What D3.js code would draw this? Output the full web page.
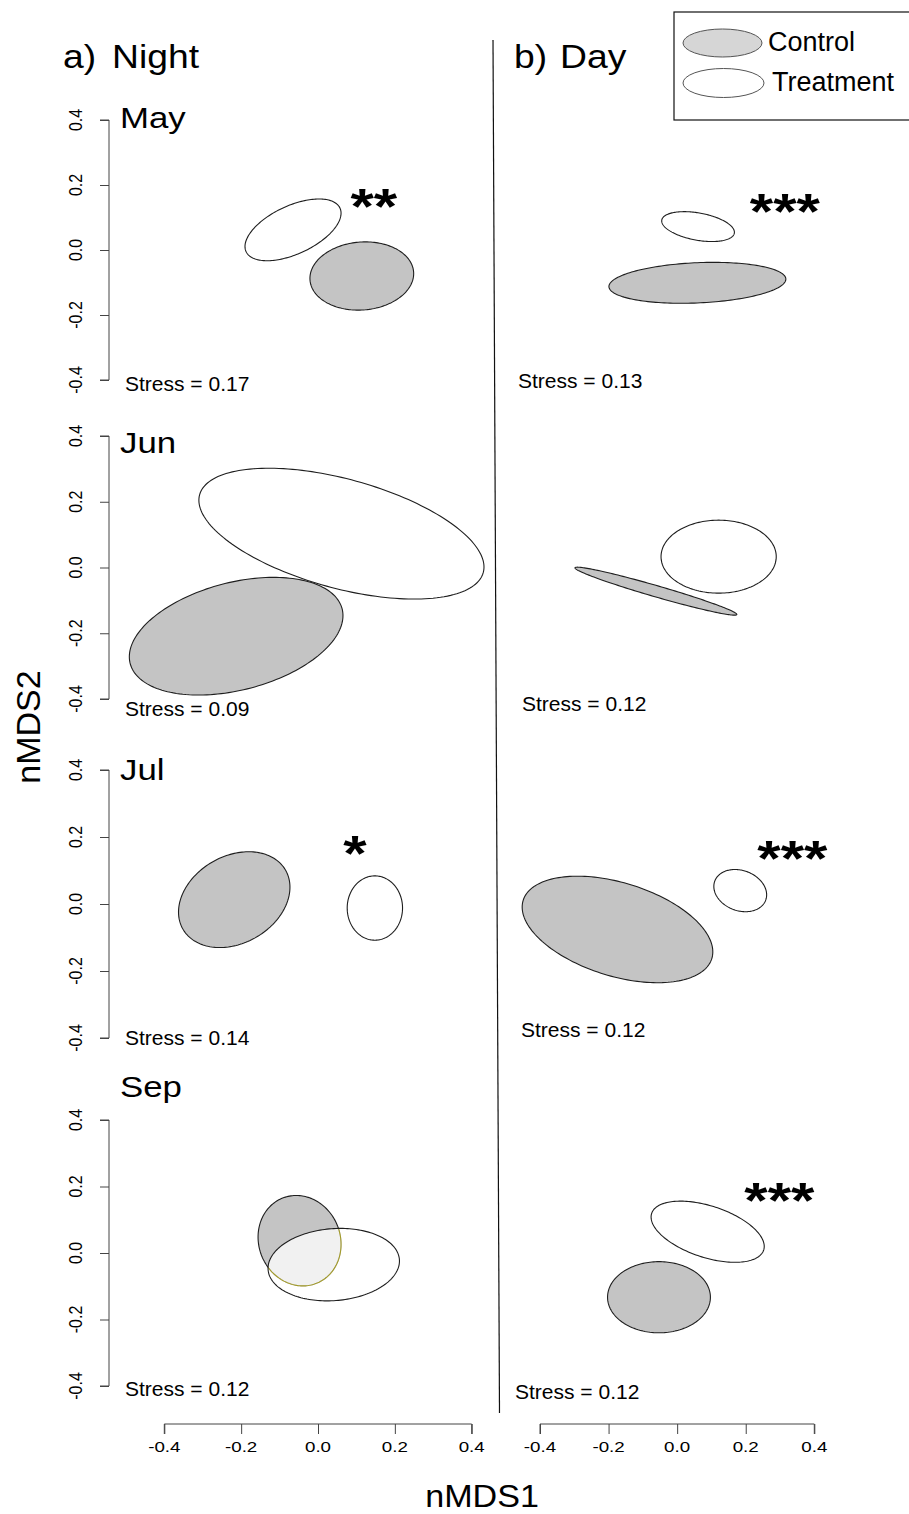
<!DOCTYPE html>
<html>
<head>
<meta charset="utf-8">
<script src="https://cdn.jsdelivr.net/npm/d3@7/dist/d3.min.js"></script>
<style>
  html, body { margin: 0; padding: 0; background: #fff; }
  svg { display: block; }
  text { font-family: "Liberation Sans", Arial, Helvetica, sans-serif; fill: #000; }
</style>
</head>
<body>
<script>
// ---- data ---------------------------------------------------------------
const months = ["May", "Jun", "Jul", "Sep"];
const stressNight = [0.17, 0.09, 0.14, 0.12];
const stressDay = [0.13, 0.12, 0.12, 0.12];
const sigNight = ["**", "", "*", ""];
const sigDay = ["***", "", "***", "***"];
const axisTicks = [-0.4, -0.2, 0.0, 0.2, 0.4];

// dispersion ellipses: [centre nMDS1, centre nMDS2, sd nMDS1, sd nMDS2, correlation]
const ctrlNight = [
  [0.114, -0.080, 0.135, 0.105, 0.07],
  [-0.213, -0.209, 0.278, 0.179, 0.35],
  [-0.218, 0.013, 0.145, 0.143, 0.26],
  [-0.048, 0.037, 0.108, 0.136, -0.08]
];
const trtNight = [
  [-0.065, 0.062, 0.125, 0.095, 0.54],
  [0.061, 0.103, 0.371, 0.199, -0.51],
  [0.148, -0.012, 0.072, 0.096, 0.0],
  [0.041, -0.035, 0.171, 0.109, 0.10]
];
const ctrlDay = [
  [0.059, -0.101, 0.258, 0.063, 0.18],
  [-0.062, -0.072, 0.236, 0.073, -0.97],
  [-0.174, -0.076, 0.278, 0.159, -0.42],
  [-0.053, -0.133, 0.150, 0.107, 0.0]
];
const trtDay = [
  [0.061, 0.072, 0.106, 0.046, -0.38],
  [0.121, 0.033, 0.168, 0.111, 0.0],
  [0.184, 0.040, 0.077, 0.063, -0.20],
  [0.089, 0.064, 0.165, 0.092, -0.48]
];
// significance marks, centred at these nMDS coordinates
const sigPosNight = [[0.145, 0.080], null, [0.096, 0.099], null];
const sigPosDay = [[0.314, 0.065], null, [0.336, 0.084], [0.298, 0.105]];

// ---- layout -------------------------------------------------------------
const W = 909, H = 1514;
const rowTop = [120, 436, 770, 1120];
const rowBottom = [380, 699, 1038, 1386];
const monthBase = [128, 453, 780, 1097];
const stressBaseNight = [391, 716, 1045, 1396];
const stressBaseDay = [388, 711, 1037, 1399];
const stressXDay = [518, 522, 521, 515];

const svg = d3.select("body").append("svg")
  .attr("width", W).attr("height", H)
  .attr("viewBox", `0 0 ${W} ${H}`);

const xNight = d3.scaleLinear().domain([-0.4, 0.4]).range([164.3, 471.7]);
const xDay = d3.scaleLinear().domain([-0.4, 0.4]).range([540, 814.3]);
const yRows = rowTop.map((t, i) => d3.scaleLinear().domain([-0.4, 0.4]).range([rowBottom[i], t]));

// tick text with a plain hyphen as minus sign
const fmtTick = v => d3.format(".1f")(v).replace("\u2212", "-");

function txt(g, x, y, s, size, o = {}) {
  const sx = o.sx || 1;
  const t = g.append("text")
    .attr("transform", `translate(${x},${y}) scale(${sx},1)` + (o.rot ? ` rotate(${o.rot})` : ""))
    .attr("font-size", size)
    .attr("text-anchor", o.anchor || "start")
    .text(s);
  if (o.bold) t.attr("font-weight", "bold");
  return t;
}

// ellipse outline from centre, sds and correlation, sampled in data space
function ellipsePts(e) {
  const [cx, cy, sx, sy, r] = e;
  const q = Math.sqrt(Math.max(0, 1 - r * r));
  return d3.range(0, 181).map(i => {
    const t = i / 180 * 2 * Math.PI;
    return [cx + sx * Math.cos(t), cy + sy * (r * Math.cos(t) + q * Math.sin(t))];
  });
}

let clipId = 0;
function drawPanel(xs, ys, ctrl, trt) {
  const line = d3.line().x(d => xs(d[0])).y(d => ys(d[1])).curve(d3.curveLinearClosed);
  const g = svg.append("g");
  const dCtrl = line(ellipsePts(ctrl));
  const dTrt = line(ellipsePts(trt));
  g.append("path").attr("d", dCtrl)
    .attr("fill", "#c4c4c4").attr("stroke", "#1e1e1e").attr("stroke-width", 1.1);
  g.append("path").attr("d", dTrt)
    .attr("fill", "rgba(255,255,255,0.76)").attr("stroke", "none");
  // control outline seen through the treatment polygon
  const id = "clipT" + (clipId++);
  g.append("clipPath").attr("id", id).append("path").attr("d", dTrt);
  g.append("path").attr("d", dCtrl).attr("clip-path", `url(#${id})`)
    .attr("fill", "none").attr("stroke", "#a39b2a").attr("stroke-width", 1.1);
  g.append("path").attr("d", dTrt)
    .attr("fill", "none").attr("stroke", "#1e1e1e").attr("stroke-width", 1.1);
}

// ---- panels -------------------------------------------------------------
months.forEach((m, i) => {
  const ys = yRows[i];

  // left y axis
  const ax = svg.append("g").attr("transform", "translate(109,0)")
    .call(d3.axisLeft(ys).tickValues(axisTicks).tickSize(9).tickFormat(() => ""));
  ax.select(".domain").attr("stroke", "#444").attr("d", `M-9,${ys(0.4)}H0V${ys(-0.4)}H-9`);
  ax.selectAll(".tick line").attr("stroke", "#444");
  axisTicks.forEach(v => {
    txt(svg, 82, ys(v), fmtTick(v), 16, { anchor: "middle", rot: -90, sx: 1.15 });
  });

  // month label
  txt(svg, 120, monthBase[i], m, 29, { sx: 1.2 });

  drawPanel(xNight, ys, ctrlNight[i], trtNight[i]);
  drawPanel(xDay, ys, ctrlDay[i], trtDay[i]);

  if (sigNight[i]) {
    const p = sigPosNight[i];
    txt(svg, xNight(p[0]), ys(p[1]), sigNight[i], 50, { anchor: "middle", bold: true, sx: 1.2 });
  }
  if (sigDay[i]) {
    const p = sigPosDay[i];
    txt(svg, xDay(p[0]), ys(p[1]), sigDay[i], 50, { anchor: "middle", bold: true, sx: 1.2 });
  }

  txt(svg, 125, stressBaseNight[i], "Stress = " + d3.format(".2f")(stressNight[i]), 21);
  txt(svg, stressXDay[i], stressBaseDay[i], "Stress = " + d3.format(".2f")(stressDay[i]), 21);
});

// ---- bottom x axes --------------------------------------------------------
[xNight, xDay].forEach(xs => {
  const ax = svg.append("g").attr("transform", "translate(0,1424)")
    .call(d3.axisBottom(xs).tickValues(axisTicks).tickSize(10).tickFormat(() => ""));
  ax.select(".domain").attr("stroke", "#444").attr("d", `M${xs(-0.4)},10V0H${xs(0.4)}V10`);
  ax.selectAll(".tick line").attr("stroke", "#444");
  axisTicks.forEach(v => {
    txt(svg, xs(v), 1452, fmtTick(v), 15, { anchor: "middle", sx: 1.25 });
  });
});

// axis titles
txt(svg, 482, 1507, "nMDS1", 31, { anchor: "middle", sx: 1.1 });
txt(svg, 40, 727, "nMDS2", 34, { anchor: "middle", rot: -90 });

// column headings
txt(svg, 63, 68, "a)", 33, { sx: 1.13 });
txt(svg, 112, 68, "Night", 33, { sx: 1.13 });
txt(svg, 514, 68, "b)", 33, { sx: 1.13 });
txt(svg, 560, 68, "Day", 33, { sx: 1.13 });

// divider between night and day columns
svg.append("line").attr("x1", 493).attr("y1", 40).attr("x2", 499.5).attr("y2", 1413)
  .attr("stroke", "#111").attr("stroke-width", 1.2);

// ---- legend ---------------------------------------------------------------
const lg = svg.append("g");
lg.append("rect").attr("x", 674).attr("y", 12).attr("width", 250).attr("height", 108)
  .attr("fill", "#fff").attr("stroke", "#111").attr("stroke-width", 1.2);
lg.append("ellipse").attr("cx", 722.5).attr("cy", 43).attr("rx", 39.5).attr("ry", 14)
  .attr("fill", "#d6d6d6").attr("stroke", "#555").attr("stroke-width", 1);
lg.append("ellipse").attr("cx", 723.5).attr("cy", 83).attr("rx", 40.5).attr("ry", 14.5)
  .attr("fill", "#fff").attr("stroke", "#555").attr("stroke-width", 1);
txt(lg, 768, 51, "Control", 27);
txt(lg, 772, 91, "Treatment", 27);
</script>
</body>
</html>
